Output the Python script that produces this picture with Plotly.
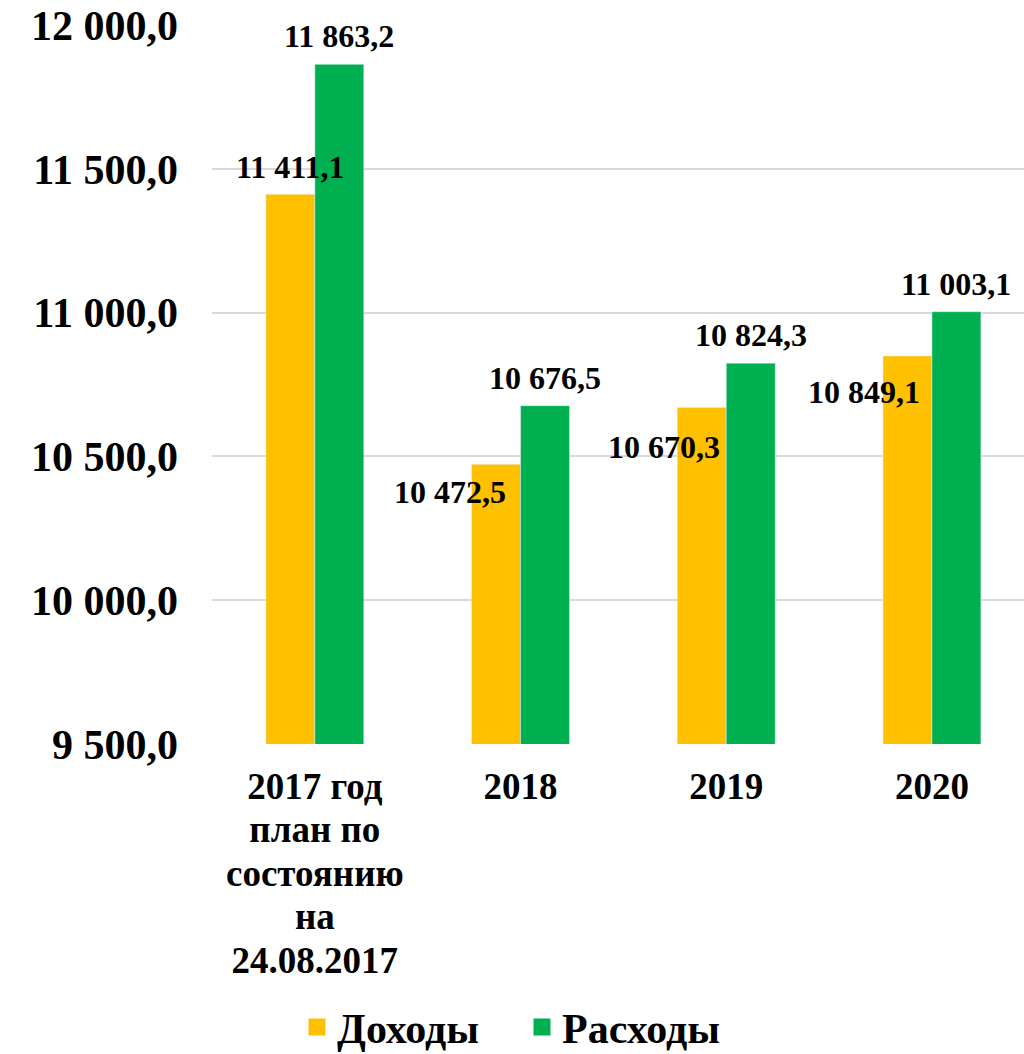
import plotly.graph_objects as go

# ---- data ----
categories = ["2017 год\nплан по\nсостоянию\nна\n24.08.2017", "2018", "2019", "2020"]
income = [11411.1, 10472.5, 10670.3, 10849.1]      # Доходы
expenses = [11863.2, 10676.5, 10824.3, 11003.1]    # Расходы
series_names = ["Доходы", "Расходы"]
y_ticks = [9500, 10000, 10500, 11000, 11500, 12000]

# ---- styles ----
YELLOW = "#FFC000"
GREEN = "#00B050"
FONT = "Liberation Serif, Times New Roman, serif"
BAR_W = 0.238
# label pixel offsets (dx, dy) relative to each bar top centre
income_label_offsets = [(0, 27), (-46, -28), (-38, -40), (-43, -36)]
expense_label_offsets = [(0, 28), (0, 28), (0, 28), (0, 28)]


def fmt(v):
    return f"{v:,.1f}".replace(",", " ").replace(".", ",")


def tick_label(text):
    # glyphs at 37px, line spacing driven by the 33.5px base tick font
    return "<br>".join(f'<span style="font-size:37px">{ln}</span>' for ln in text.split("\n"))


xs = list(range(len(categories)))

fig = go.Figure()
fig.add_trace(go.Bar(x=xs, y=income, name=series_names[0], marker_color=YELLOW,
                     width=BAR_W, offset=-BAR_W, showlegend=False))
fig.add_trace(go.Bar(x=xs, y=expenses, name=series_names[1], marker_color=GREEN,
                     width=BAR_W, offset=0, showlegend=False))
# legend-only entries (bigger square symbols)
fig.add_trace(go.Bar(x=[None], y=[None], name=series_names[0], marker_color=YELLOW,
                     marker_line=dict(color=YELLOW, width=10), showlegend=True))
fig.add_trace(go.Bar(x=[None], y=[None], name=series_names[1], marker_color=GREEN,
                     marker_line=dict(color=GREEN, width=10), showlegend=True))

annotations = []
for i, v in enumerate(income):
    dx, dy = income_label_offsets[i]
    annotations.append(dict(x=i - BAR_W / 2, y=v, xref="x", yref="y", text=fmt(v),
                            showarrow=False, xanchor="center", yanchor="middle",
                            xshift=dx, yshift=dy,
                            font=dict(family=FONT, size=32, color="black", weight="bold")))
for i, v in enumerate(expenses):
    dx, dy = expense_label_offsets[i]
    annotations.append(dict(x=i + BAR_W / 2, y=v, xref="x", yref="y", text=fmt(v),
                            showarrow=False, xanchor="center", yanchor="middle",
                            xshift=dx, yshift=dy,
                            font=dict(family=FONT, size=32, color="black", weight="bold")))

fig.update_layout(
    width=1024, height=1054,
    margin=dict(l=212, r=0, t=24.5, b=310.3),
    paper_bgcolor="white", plot_bgcolor="white",
    separators=", ",
    barmode="overlay",
    annotations=annotations,
    legend=dict(orientation="h", xref="container", yref="container",
                x=297 / 1024, xanchor="left", y=0.0255, yanchor="middle",
                entrywidth=180, entrywidthmode="pixels",
                font=dict(family=FONT, size=42, color="black", weight="bold"),
                bgcolor="rgba(0,0,0,0)"),
)
fig.update_xaxes(
    tickmode="array", tickvals=xs, ticktext=[tick_label(c) for c in categories],
    range=[-0.5, -0.5 + 812 / 205.7],
    showgrid=False, zeroline=False, showline=False, ticks="",
    tickfont=dict(family=FONT, size=33.5, color="black", weight="bold"),
    ticklabelstandoff=20,
)
fig.update_yaxes(
    range=[9500, 12000], tickmode="array", tickvals=y_ticks,
    tickformat=",.1f",
    showgrid=True, gridcolor="#D9D9D9", gridwidth=1.5,
    zeroline=False, showline=False, ticks="",
    tickfont=dict(family=FONT, size=42, color="black", weight="bold"),
    ticklabelstandoff=33,
)

fig.write_html("out.html", config={"displayModeBar": False},
               post_script="document.body.style.margin='0';")
